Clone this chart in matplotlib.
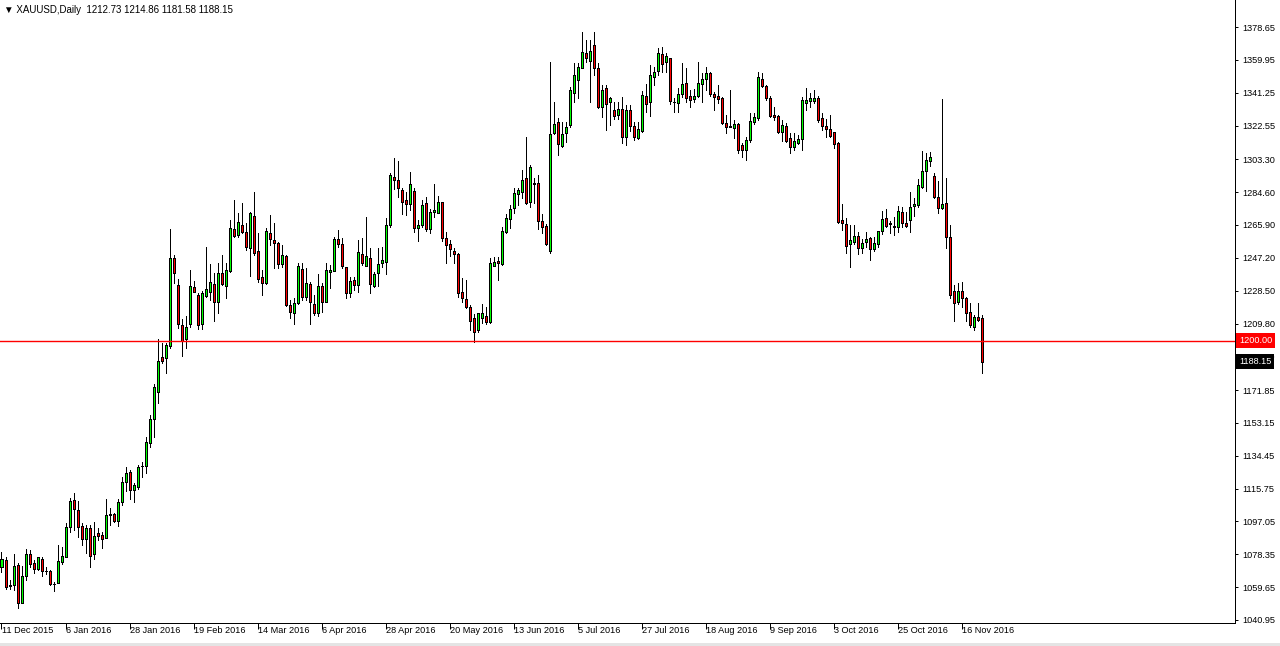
import matplotlib
matplotlib.use("Agg")
import matplotlib.pyplot as plt
from matplotlib.patches import Rectangle
from matplotlib.transforms import ScaledTranslation, blended_transform_factory
import numpy as np

# ---------------- data (XAUUSD daily) ----------------
opens = [1071.32, 1075.11, 1060.88, 1060.88, 1072.27, 1050.82, 1066.00, 1078.34, 1073.22, 1069.99,
         1075.68, 1069.00, 1068.85, 1061.30, 1062.21, 1073.79, 1077.01, 1093.71, 1109.28, 1103.58,
         1094.47, 1086.88, 1093.14, 1078.34, 1090.30, 1089.35, 1087.83, 1100.90, 1101.31, 1097.51,
         1107.95, 1119.37, 1125.06, 1115.00, 1116.90, 1128.60, 1128.86, 1141.57, 1155.24, 1170.61,
         1190.54, 1189.97, 1197.19, 1246.91, 1231.54, 1208.95, 1200.98, 1209.33, 1230.40, 1226.04,
         1209.33, 1225.47, 1227.55, 1232.11, 1222.24, 1238.37, 1231.35, 1239.89, 1263.43, 1260.20,
         1265.70, 1261.72, 1252.61, 1271.02, 1251.09, 1236.10, 1232.68, 1261.15, 1257.35, 1255.83,
         1243.50, 1248.24, 1220.34, 1215.60, 1221.29, 1240.84, 1225.09, 1232.30, 1221.10, 1215.60,
         1231.35, 1222.24, 1238.94, 1239.89, 1257.92, 1254.89, 1241.79, 1226.99, 1234.58, 1231.92,
         1249.19, 1242.74, 1246.91, 1231.35, 1238.37, 1244.07, 1245.02, 1265.89, 1293.04, 1291.52,
         1285.82, 1280.13, 1277.66, 1285.25, 1264.00, 1265.89, 1278.23, 1263.43, 1273.11, 1272.92,
         1278.80, 1258.30, 1254.89, 1251.09, 1249.38, 1227.56, 1223.57, 1219.39, 1212.75, 1206.11,
         1212.75, 1214.08, 1210.85, 1242.74, 1245.59, 1243.70, 1261.73, 1269.14, 1275.40, 1283.37,
         1284.89, 1292.48, 1279.20, 1289.80, 1289.63, 1268.38, 1265.34, 1251.30, 1318.10, 1324.75,
         1310.89, 1318.10, 1322.85, 1341.26, 1348.47, 1355.50, 1363.66, 1359.48, 1368.40, 1355.50,
         1333.29, 1343.73, 1336.14, 1331.39, 1328.54, 1331.77, 1316.21, 1331.39, 1322.47, 1315.26,
         1319.43, 1339.36, 1335.76, 1349.99, 1353.79, 1363.09, 1358.53, 1360.81, 1335.90, 1335.19,
         1340.31, 1346.57, 1339.36, 1337.65, 1339.55, 1346.00, 1348.85, 1352.27, 1340.50, 1339.36,
         1338.03, 1323.80, 1322.10, 1320.95, 1323.23, 1311.46, 1308.61, 1314.31, 1324.37, 1326.64,
         1349.04, 1345.06, 1338.03, 1328.54, 1327.97, 1319.05, 1322.28, 1315.26, 1310.13, 1312.41,
         1314.69, 1335.19, 1336.70, 1336.70, 1338.03, 1326.64, 1322.27, 1320.37, 1318.67, 1312.40,
         1268.75, 1266.47, 1254.89, 1256.03, 1259.64, 1252.61, 1256.03, 1258.31, 1252.05, 1254.89,
         1262.67, 1269.70, 1266.90, 1265.33, 1264.57, 1273.11, 1267.23, 1268.75, 1276.91, 1277.10,
         1287.73, 1296.84, 1302.34, 1293.80, 1281.65, 1275.39, 1278.24, 1259.26, 1228.30, 1221.85,
         1228.30, 1224.51, 1216.16, 1207.61, 1213.69, 1212.73]
highs = [1079.86, 1076.63, 1063.73, 1078.34, 1073.22, 1071.70, 1081.57, 1080.81, 1075.11, 1077.01,
         1076.63, 1071.32, 1069.42, 1062.78, 1083.65, 1082.33, 1095.99, 1110.23, 1113.07, 1108.71,
         1095.99, 1095.04, 1095.04, 1096.94, 1093.14, 1091.25, 1109.66, 1104.53, 1102.07, 1109.66,
         1122.56, 1127.91, 1126.39, 1118.80, 1129.24, 1131.13, 1145.37, 1157.71, 1175.17, 1200.79,
         1198.89, 1198.89, 1263.43, 1248.81, 1234.96, 1212.18, 1214.08, 1240.27, 1234.01, 1226.98,
         1228.31, 1253.56, 1243.50, 1238.37, 1244.07, 1248.81, 1244.45, 1268.74, 1280.13, 1272.54,
         1278.23, 1266.84, 1273.11, 1284.87, 1261.53, 1240.27, 1264.38, 1271.59, 1266.84, 1256.40,
         1254.51, 1248.81, 1223.19, 1224.14, 1244.07, 1244.07, 1241.22, 1233.63, 1226.04, 1237.80,
         1232.68, 1244.07, 1243.12, 1259.25, 1263.05, 1258.30, 1242.17, 1236.48, 1236.10, 1257.35,
         1258.30, 1270.64, 1252.61, 1239.32, 1252.61, 1253.18, 1269.69, 1295.31, 1303.85, 1302.34,
         1286.77, 1284.87, 1295.88, 1286.77, 1268.74, 1280.13, 1282.03, 1274.82, 1289.24, 1282.60,
         1279.18, 1262.10, 1257.35, 1252.61, 1249.76, 1235.53, 1234.58, 1220.34, 1215.22, 1215.98,
         1220.91, 1219.39, 1246.91, 1247.48, 1247.48, 1264.96, 1271.98, 1277.30, 1287.17, 1287.17,
         1297.23, 1315.83, 1300.07, 1292.48, 1294.38, 1272.17, 1266.29, 1358.53, 1335.76, 1326.65,
         1324.75, 1324.37, 1344.68, 1357.96, 1357.96, 1375.99, 1371.25, 1371.25, 1375.99, 1357.96,
         1345.63, 1345.63, 1338.98, 1336.14, 1335.76, 1338.98, 1334.24, 1334.24, 1324.75, 1324.75,
         1342.21, 1346.01, 1357.01, 1356.06, 1366.88, 1367.45, 1363.66, 1361.19, 1338.41, 1343.73,
         1357.96, 1355.50, 1342.78, 1343.16, 1358.91, 1352.27, 1356.06, 1353.22, 1341.83, 1345.62,
         1338.98, 1328.54, 1342.78, 1325.70, 1323.80, 1312.41, 1316.21, 1329.49, 1329.87, 1353.22,
         1352.27, 1345.63, 1339.36, 1333.29, 1328.54, 1325.70, 1323.80, 1318.10, 1318.48, 1317.15,
         1338.98, 1343.73, 1340.88, 1342.78, 1339.36, 1329.49, 1326.07, 1328.53, 1319.05, 1313.35,
         1277.86, 1269.70, 1265.90, 1265.90, 1262.10, 1257.74, 1262.10, 1259.26, 1259.26, 1262.67,
         1273.87, 1275.01, 1268.18, 1270.65, 1276.91, 1276.34, 1273.49, 1284.88, 1281.08, 1292.09,
         1308.23, 1307.09, 1307.28, 1295.70, 1291.14, 1337.46, 1292.47, 1265.90, 1231.72, 1232.67,
         1233.62, 1225.08, 1221.28, 1214.64, 1221.28, 1214.86]
lows = [1068.47, 1058.41, 1058.41, 1058.03, 1047.59, 1050.50, 1063.73, 1071.32, 1067.52, 1069.42,
        1066.00, 1067.14, 1060.88, 1057.65, 1061.83, 1072.65, 1076.63, 1091.25, 1092.20, 1088.40,
        1083.65, 1079.29, 1071.32, 1075.49, 1086.50, 1082.14, 1087.45, 1095.04, 1096.94, 1094.47,
        1106.62, 1114.62, 1109.69, 1108.36, 1115.38, 1122.21, 1124.49, 1139.30, 1145.37, 1164.35,
        1187.13, 1181.43, 1195.67, 1232.68, 1207.43, 1191.30, 1195.67, 1207.62, 1227.55, 1206.67,
        1206.67, 1225.09, 1223.19, 1211.42, 1215.60, 1231.73, 1224.52, 1239.32, 1259.25, 1259.25,
        1261.15, 1251.66, 1237.04, 1248.81, 1233.63, 1226.04, 1232.30, 1254.51, 1241.22, 1241.22,
        1242.17, 1220.00, 1213.13, 1209.33, 1220.72, 1223.19, 1223.19, 1209.33, 1214.65, 1214.27,
        1216.55, 1222.00, 1229.83, 1239.70, 1253.56, 1241.60, 1224.14, 1225.09, 1228.88, 1227.93,
        1243.12, 1242.55, 1227.37, 1230.40, 1231.35, 1241.79, 1237.80, 1264.95, 1286.20, 1282.03,
        1271.97, 1271.40, 1274.44, 1262.10, 1256.97, 1264.95, 1262.48, 1261.53, 1270.64, 1272.54,
        1256.97, 1244.07, 1248.24, 1244.07, 1225.09, 1222.24, 1218.44, 1206.11, 1199.46, 1205.16,
        1210.28, 1209.52, 1209.90, 1242.50, 1234.58, 1243.13, 1261.16, 1264.39, 1272.55, 1277.30,
        1281.09, 1277.68, 1276.35, 1278.25, 1263.63, 1261.16, 1254.52, 1250.16, 1317.54, 1305.77,
        1310.51, 1312.98, 1321.90, 1336.14, 1338.41, 1355.12, 1358.91, 1336.14, 1351.32, 1332.72,
        1327.59, 1320.00, 1322.85, 1326.27, 1326.27, 1312.41, 1311.46, 1319.43, 1314.31, 1314.88,
        1318.67, 1330.06, 1328.16, 1345.63, 1351.32, 1353.22, 1353.22, 1334.81, 1330.06, 1330.44,
        1338.98, 1336.00, 1333.29, 1335.76, 1338.98, 1336.13, 1342.78, 1339.55, 1331.39, 1335.19,
        1323.42, 1318.10, 1321.50, 1315.26, 1306.72, 1304.44, 1302.92, 1313.36, 1323.42, 1325.70,
        1344.68, 1337.08, 1327.59, 1325.70, 1318.10, 1313.74, 1313.36, 1306.72, 1308.61, 1312.03,
        1308.61, 1331.39, 1333.29, 1335.19, 1324.37, 1320.00, 1316.20, 1316.20, 1309.55, 1267.23,
        1263.05, 1249.77, 1241.80, 1254.89, 1249.39, 1249.77, 1253.18, 1245.97, 1251.29, 1253.56,
        1260.78, 1264.95, 1261.16, 1260.21, 1262.10, 1264.57, 1264.95, 1261.73, 1271.03, 1275.96,
        1287.16, 1285.45, 1299.50, 1281.46, 1272.92, 1275.01, 1252.61, 1224.13, 1211.41, 1220.71,
        1219.00, 1211.41, 1207.99, 1206.10, 1211.41, 1181.58]
closes = [1075.49, 1059.93, 1060.50, 1071.51, 1050.82, 1066.00, 1078.34, 1072.65, 1069.80, 1076.63,
          1069.04, 1068.70, 1061.26, 1061.50, 1074.54, 1077.39, 1093.71, 1108.71, 1103.96, 1093.71,
          1086.88, 1093.14, 1077.58, 1088.78, 1088.97, 1086.88, 1100.74, 1101.20, 1097.51, 1108.14,
          1119.72, 1124.49, 1115.00, 1117.85, 1128.29, 1128.90, 1142.14, 1155.24, 1173.46, 1188.64,
          1188.64, 1197.56, 1246.91, 1238.37, 1209.33, 1199.84, 1208.00, 1231.16, 1227.93, 1208.95,
          1226.98, 1229.26, 1233.25, 1222.24, 1238.37, 1232.11, 1240.27, 1264.00, 1259.82, 1267.41,
          1261.72, 1253.18, 1272.54, 1250.14, 1234.96, 1232.68, 1262.48, 1257.73, 1255.45, 1243.50,
          1248.81, 1220.34, 1216.55, 1221.67, 1242.55, 1225.09, 1233.06, 1222.24, 1215.60, 1231.35,
          1222.24, 1240.27, 1240.27, 1257.92, 1255.08, 1242.74, 1227.37, 1234.01, 1231.73, 1250.33,
          1244.07, 1248.24, 1232.30, 1237.80, 1243.50, 1245.97, 1265.89, 1294.36, 1291.52, 1286.77,
          1279.18, 1277.66, 1289.24, 1264.00, 1265.89, 1277.28, 1263.43, 1273.30, 1274.44, 1278.80,
          1258.30, 1254.51, 1252.23, 1249.19, 1226.99, 1224.14, 1219.39, 1211.42, 1205.16, 1215.60,
          1215.60, 1210.85, 1244.07, 1245.02, 1244.07, 1262.68, 1269.71, 1274.83, 1283.94, 1285.84,
          1291.53, 1278.63, 1298.75, 1289.50, 1268.38, 1264.96, 1255.09, 1317.73, 1323.23, 1311.84,
          1317.54, 1321.52, 1342.78, 1351.32, 1356.06, 1364.23, 1360.81, 1364.99, 1355.50, 1333.29,
          1342.78, 1334.81, 1338.03, 1328.16, 1331.77, 1315.83, 1331.39, 1322.47, 1315.83, 1320.38,
          1339.93, 1334.81, 1351.32, 1352.84, 1363.66, 1357.58, 1362.14, 1336.52, 1335.70, 1340.31,
          1346.01, 1338.41, 1337.08, 1339.36, 1346.57, 1349.04, 1352.27, 1340.31, 1338.98, 1337.65,
          1323.80, 1321.90, 1321.90, 1323.23, 1308.61, 1308.61, 1314.31, 1325.13, 1327.59, 1349.99,
          1345.25, 1338.03, 1328.16, 1327.59, 1318.67, 1322.85, 1313.93, 1310.13, 1313.74, 1314.88,
          1337.08, 1337.08, 1338.03, 1338.03, 1325.70, 1322.09, 1320.37, 1316.77, 1311.83, 1267.80,
          1266.85, 1254.13, 1257.36, 1259.64, 1252.61, 1255.46, 1257.93, 1252.05, 1255.46, 1262.48,
          1269.32, 1265.52, 1266.70, 1264.57, 1273.87, 1266.85, 1265.52, 1275.96, 1277.67, 1288.68,
          1296.65, 1302.91, 1304.43, 1281.65, 1275.39, 1277.86, 1258.88, 1226.02, 1221.28, 1228.49,
          1224.51, 1215.97, 1208.94, 1213.69, 1211.79, 1188.15]

date_labels = ["11 Dec 2015", "6 Jan 2016", "28 Jan 2016", "19 Feb 2016", "14 Mar 2016",
               "6 Apr 2016", "28 Apr 2016", "20 May 2016", "13 Jun 2016", "5 Jul 2016",
               "27 Jul 2016", "18 Aug 2016", "9 Sep 2016", "3 Oct 2016", "25 Oct 2016",
               "16 Nov 2016"]
label_step = 16  # bars between date labels

price_ticks = [1378.65, 1359.95, 1341.25, 1322.55, 1303.30, 1284.60, 1265.90, 1247.20,
               1228.50, 1209.80, 1191.10, 1171.85, 1153.15, 1134.45, 1115.75, 1097.05,
               1078.35, 1059.65, 1040.95]
level_line = 1200.00
symbol = "XAUUSD,Daily"

# ---------------- figure ----------------
W, H = 1280, 646
DPI = 100
fig = plt.figure(figsize=(W / DPI, H / DPI), dpi=DPI)
fig.patch.set_facecolor("white")

FONT = "Liberation Sans"
FS = 6.6

ax_right_px, ax_bottom_px = 1235, 623
ax = fig.add_axes([0, (H - ax_bottom_px) / H, ax_right_px / W, ax_bottom_px / H])
ax.set_facecolor("white")

o = np.array(opens); h = np.array(highs); l = np.array(lows); c = np.array(closes)
x = np.arange(len(o))
up = c >= o
colors = np.where(up, "#00ff00", "#ff0000")

px = 1 / DPI * 72  # one pixel in points
ax.vlines(x, l, h, color="black", linewidth=px, zorder=2, antialiased=False)
ax.bar(x, np.abs(c - o), bottom=np.minimum(o, c), width=0.5, color=colors,
       edgecolor="black", linewidth=px, zorder=3, antialiased=False)

ax.axhline(level_line, color="#ff0000", linewidth=1.0, zorder=4)

ax.set_ylim(1039.24, 1394.03)
ax.set_xlim(-0.375, 308.375)

for s in ["left", "top"]:
    ax.spines[s].set_visible(False)
for s in ["right", "bottom"]:
    ax.spines[s].set_linewidth(px)
    ax.spines[s].set_color("black")

# right price axis
ax.yaxis.tick_right()
ax.set_yticks(price_ticks)
ax.set_yticklabels([f"{v:.2f}" for v in price_ticks], fontfamily=FONT, fontsize=FS)
ax.tick_params(axis="y", direction="out", length=3 * px, width=px, pad=4 * px, colors="black")

# bottom date axis
ax.set_xticks(x[::label_step][:len(date_labels)])
ax.set_xticklabels(date_labels, fontfamily=FONT, fontsize=FS, ha="left")
ax.tick_params(axis="x", direction="out", length=6 * px, width=px, pad=-3 * px, colors="black")
offset = ScaledTranslation(1 / DPI, 0, fig.dpi_scale_trans)
for lab in ax.get_xticklabels():
    lab.set_transform(lab.get_transform() + offset)

# price boxes on the right axis
btrans = blended_transform_factory(ax.transAxes, ax.transData)
for val, fc in [(level_line, "#ff0000"), (closes[-1], "black")]:
    ax.annotate(f"{val:.2f}", xy=(1, val), xycoords=btrans, xytext=(4, 0),
                textcoords="offset pixels", ha="left", va="center", color="white",
                fontfamily=FONT, fontsize=FS, annotation_clip=False, zorder=10,
                bbox=dict(boxstyle="square,pad=0.3", fc=fc, ec="none"))

# header
fig.text(4 / W, 1 - 10 / H,
         f"\u25BC {symbol}  {opens[-1]:.2f} {highs[-1]:.2f} {lows[-1]:.2f} {closes[-1]:.2f}",
         fontfamily=[FONT, "DejaVu Sans"], fontsize=FS + 0.4, va="center", ha="left", color="black")

# bottom grey strip
fig.add_artist(Rectangle((0, 0), 1, 3 / H, transform=fig.transFigure,
                         facecolor="#e4e4e4", edgecolor="none"))

fig.savefig("out.png", dpi=DPI, facecolor="white")
